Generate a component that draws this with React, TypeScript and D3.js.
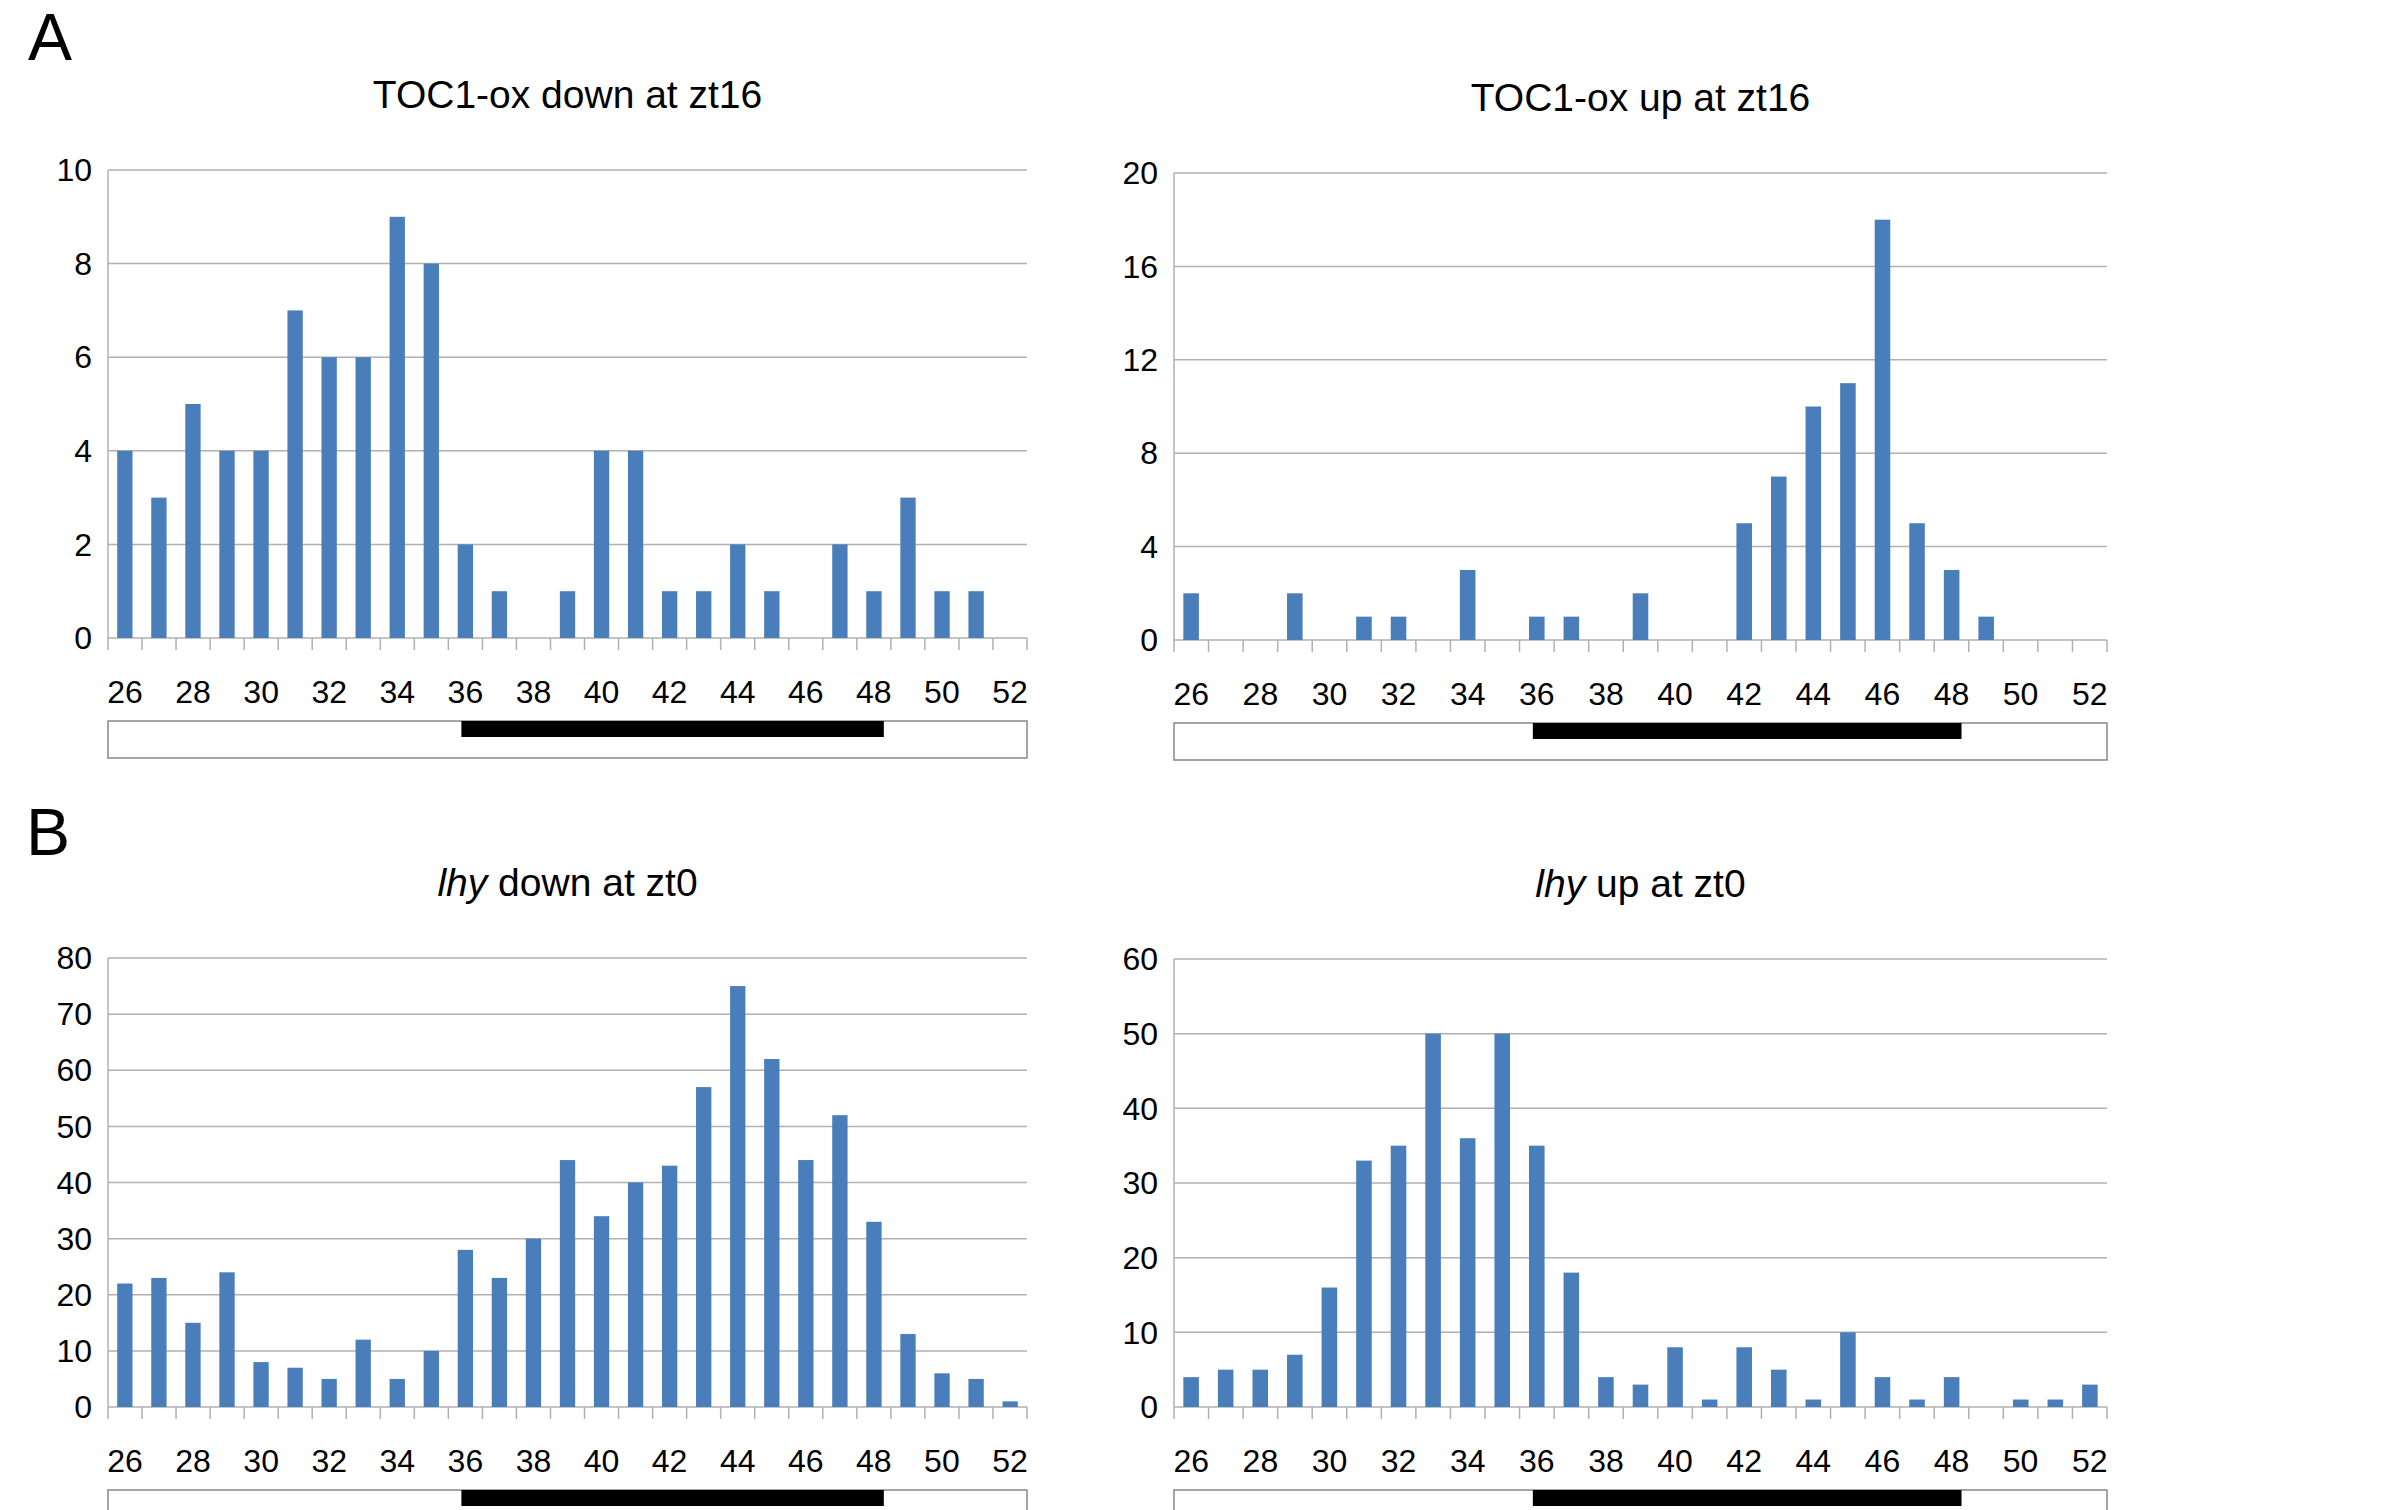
import * as d3 from 'd3';
import { useEffect } from 'react';

const hours = d3.range(26, 53);
const tickLabels = d3.range(26, 53, 2);

const toc1Down = [4, 3, 5, 4, 4, 7, 6, 6, 9, 8, 2, 1, 0, 1, 4, 4, 1, 1, 2, 1, 0, 2, 1, 3, 1, 1, 0];
const toc1Up = [2, 0, 0, 2, 0, 1, 1, 0, 3, 0, 1, 1, 0, 2, 0, 0, 5, 7, 10, 11, 18, 5, 3, 1, 0, 0, 0];
const lhyDown = [22, 23, 15, 24, 8, 7, 5, 12, 5, 10, 28, 23, 30, 44, 34, 40, 43, 57, 75, 62, 44, 52, 33, 13, 6, 5, 1];
const lhyUp = [4, 5, 5, 7, 16, 33, 35, 50, 36, 50, 35, 18, 4, 3, 8, 1, 8, 5, 1, 10, 4, 1, 4, 0, 1, 1, 3];

const darkStart = 36;
const darkEnd = 48;

type PanelProps = {
  values: number[];
  yTicks: number[];
  title: React.ReactNode;
  x0: number;
  x1: number;
  top: number;
  bottom: number;
};

function Panel({ values, yTicks, title, x0, x1, top, bottom }: PanelProps) {
  const x = d3.scaleBand<number>().domain(hours).range([x0, x1]).paddingInner(0.55).paddingOuter(0.27);
  const xb = d3.scaleBand<number>().domain(hours).range([x0, x1]);
  const y = d3.scaleLinear().domain([0, yTicks[yTicks.length - 1]]).range([bottom, top]);
  const labelY = bottom + 54;
  const stripTop = bottom + 83;
  const stripBottom = stripTop + 37;
  const mid = (h: number) => xb(h)! + xb.bandwidth() / 2;
  return (
    <g>
      <text x={(x0 + x1) / 2} y={top - 62} textAnchor="middle" fontSize={39}>{title}</text>
      {yTicks.map(t => (
        <g key={t}>
          <line x1={x0} x2={x1} y1={y(t)} y2={y(t)} stroke="#b0b0b0" strokeWidth={1.5} />
          <text x={x0 - 16} y={y(t)} dy="0.35em" textAnchor="end" fontSize={32}>{t}</text>
        </g>
      ))}
      <line x1={x0} x2={x0} y1={top} y2={bottom} stroke="#b0b0b0" strokeWidth={1.5} />
      {hours.map(h => (
        <line key={h} x1={xb(h)} x2={xb(h)} y1={bottom} y2={bottom + 12} stroke="#b0b0b0" strokeWidth={1.5} />
      ))}
      <line x1={x1} x2={x1} y1={bottom} y2={bottom + 12} stroke="#b0b0b0" strokeWidth={1.5} />
      {values.map((v, i) => (
        <rect key={i} x={x(hours[i])} width={x.bandwidth()} y={y(v)} height={bottom - y(v)} fill="#4a7ebb" />
      ))}
      {tickLabels.map(t => (
        <text key={t} x={mid(t)} y={labelY} dy="0.35em" textAnchor="middle" fontSize={32}>{t}</text>
      ))}
      <rect x={x0} y={stripTop} width={x1 - x0} height={stripBottom - stripTop} fill="white" stroke="#888" strokeWidth={1.5} />
      <rect x={mid(darkStart) - 4} y={stripTop} width={mid(darkEnd) + 10 - (mid(darkStart) - 4)} height={16} fill="black" />
    </g>
  );
}

export default function App() {
  useEffect(() => {
    document.body.style.margin = '0';
  }, []);
  return (
    <svg width={2394} height={1510} fontFamily="'Liberation Sans', Arial, sans-serif" style={{ display: 'block', background: 'white' }}>
      <text x={28} y={60} fontSize={66}>A</text>
      <text x={26} y={855} fontSize={66}>B</text>
      <Panel values={toc1Down} yTicks={[0, 2, 4, 6, 8, 10]} title="TOC1-ox down at zt16" x0={108} x1={1027} top={170} bottom={638} />
      <Panel values={toc1Up} yTicks={[0, 4, 8, 12, 16, 20]} title="TOC1-ox up at zt16" x0={1174} x1={2107} top={173} bottom={640} />
      <Panel values={lhyDown} yTicks={[0, 10, 20, 30, 40, 50, 60, 70, 80]} title={<><tspan fontStyle="italic">lhy</tspan> down at zt0</>} x0={108} x1={1027} top={958} bottom={1407} />
      <Panel values={lhyUp} yTicks={[0, 10, 20, 30, 40, 50, 60]} title={<><tspan fontStyle="italic">lhy</tspan> up at zt0</>} x0={1174} x1={2107} top={959} bottom={1407} />
    </svg>
  );
}
